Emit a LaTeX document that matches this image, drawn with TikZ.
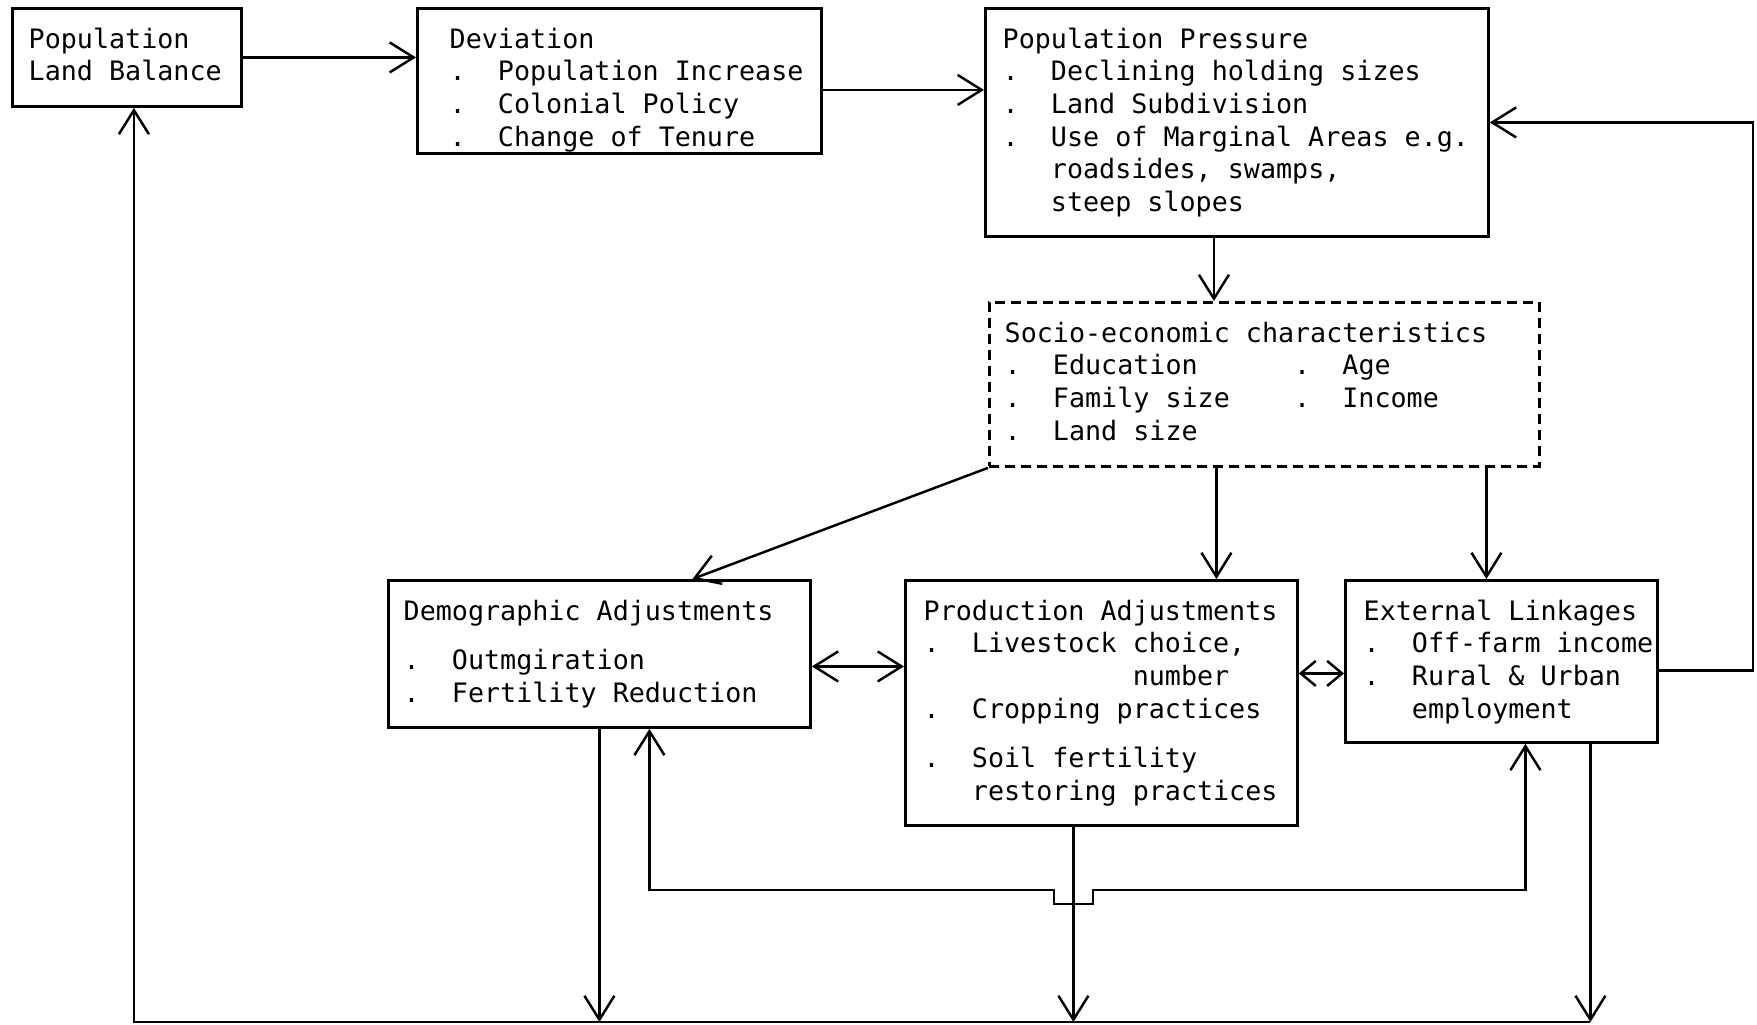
\documentclass[tikz,border=0pt]{standalone}
\usepackage{fontspec}
\usepackage{tikz}
\usetikzlibrary{arrows.meta}
\newfontfamily\typer{DejaVu Sans Mono}
\newcommand{\bul}{.\ \ }
\newcommand{\ind}{\phantom{.\ \ }}
\tikzset{box/.style = {draw, line width = 0.8pt, anchor = north west, inner sep = 0}}
\tikzset{dbox/.style = {box, dash pattern = on 1mm off 0.6mm}}
\tikzset{txt/.style = {anchor = north west, align = left, inner sep = 0,
                       font = \typer\fontsize{7.6}{9.3}\selectfont}}
\tikzset{link/.style = {line width = 0.7pt}}
\tikzset{>={Straight Barb[length=2.4mm, width=3mm]}}
\tikzset{short/.style = {link, {Straight Barb[length=1.5mm, width=2.5mm]}-{Straight Barb[length=1.5mm, width=2.5mm]}}}

\begin{document}
\begin{tikzpicture}[x=1mm, y=-1mm]
      \useasboundingbox (0, 0) rectangle (175.7, 102.4);

      \node [box, minimum width=22.9mm, minimum height=9.8mm] (bal) at (1.1, 0.7) {};
      \node [txt] (baltxt) at ([xshift=1.7mm, yshift=-2.0mm] bal.north west) {Population\\Land Balance};

      \node [box, minimum width=40.4mm, minimum height=14.5mm] (dev) at (41.6, 0.7) {};
      \node [txt] (devtxt) at ([xshift=3.3mm, yshift=-2.0mm] dev.north west)
        {Deviation\\\bul Population Increase\\\bul Colonial Policy\\\bul Change of Tenure};

      \node [box, minimum width=50.3mm, minimum height=22.8mm] (pres) at (98.4, 0.7) {};
      \node [txt] (prestxt) at ([xshift=1.8mm, yshift=-2.0mm] pres.north west)
        {Population Pressure\\\bul Declining holding sizes\\\bul Land Subdivision\\
         \bul Use of Marginal Areas e.g.\\\ind roadsides, swamps,\\\ind steep slopes};

      \node [dbox, minimum width=55mm, minimum height=16.4mm] (socio) at (98.8, 30.1) {};
      \node [txt] (sociotxt) at ([xshift=1.6mm, yshift=-2.0mm] socio.north west)
        {Socio-economic characteristics\\
         \bul Education\ \ \ \ \ \ \bul Age\\
         \bul Family size\ \ \ \ \bul Income\\
         \bul Land size};

      \node [box, minimum width=42.2mm, minimum height=14.7mm] (demo) at (38.7, 57.9) {};
      \node [txt] (demotxt) at ([xshift=1.6mm, yshift=-2.0mm] demo.north west)
        {Demographic Adjustments\\[1.7mm]\bul Outmgiration\\\bul Fertility Reduction};

      \node [box, minimum width=39.2mm, minimum height=24.5mm] (prod) at (90.4, 57.9) {};
      \node [txt] (prodtxt) at ([xshift=1.9mm, yshift=-2.0mm] prod.north west)
        {Production Adjustments\\\bul Livestock choice,\\\phantom{.\ \ Livestock }number\\
         \bul Cropping practices\\[1.7mm]\bul Soil fertility\\\ind restoring practices};

      \node [box, minimum width=31.2mm, minimum height=16.2mm] (ext) at (134.4, 57.9) {};
      \node [txt] (exttxt) at ([xshift=1.9mm, yshift=-2.0mm] ext.north west)
        {External Linkages\\\bul Off-farm income\\\bul Rural \& Urban\\\ind employment};

      % top row and feedback
      \draw [link, ->] (bal.east) -- (bal.east -| dev.west);
      \draw [link, ->] ([yshift=-0.9mm] dev.east) -- ([yshift=-0.9mm] dev.east -| pres.west);
      \draw [link, ->] ([xshift=-2.3mm] pres.south) -- ([xshift=-2.3mm] pres.south |- socio.north);
      \draw [link, ->] ([yshift=-0.9mm] ext.east) -- ++(9.4, 0) |- (pres.east);

      % adjustments
      \draw [link, ->] (socio.south west) -- ([xshift=9.3mm] demo.north);
      \draw [link, ->] ([xshift=-4.8mm] socio.south) -- ([xshift=-4.8mm] socio.south |- prod.north);
      \draw [link, ->] ([xshift=-1.5mm] ext.north |- socio.south) -- ([xshift=-1.5mm] ext.north);
      \draw [link, <->] ([yshift=-1.25mm] demo.east) -- ([yshift=-1.25mm] demo.east -| prod.west);
      \draw [short] ([yshift=-1.2mm] ext.west) -- ([yshift=-1.2mm] ext.west -| prod.east);

      % bottom lines
      \coordinate (base) at (0, 102.2);
      \coordinate (nl) at (105.4, 89.0);
      \coordinate (nr) at (109.3, 89.0);
      \draw [link, ->] (demo.south) -- (demo.south |- base);
      \draw [link, ->] ([xshift=-2.8mm] prod.south) -- ([xshift=-2.8mm] prod.south |- base);
      \draw [link, ->] ([xshift=8.9mm] ext.south) -- ([xshift=8.9mm] ext.south |- base);
      \draw [link, ->] ([xshift=8.9mm] ext.south |- base) -| ([xshift=0.7mm] bal.south);
      \draw [link, <->] ([xshift=5mm] demo.south) |- (nl) -- ++(0, 1.4) -| (nr) -| ([xshift=2.4mm] ext.south);
\end{tikzpicture}
\end{document}
